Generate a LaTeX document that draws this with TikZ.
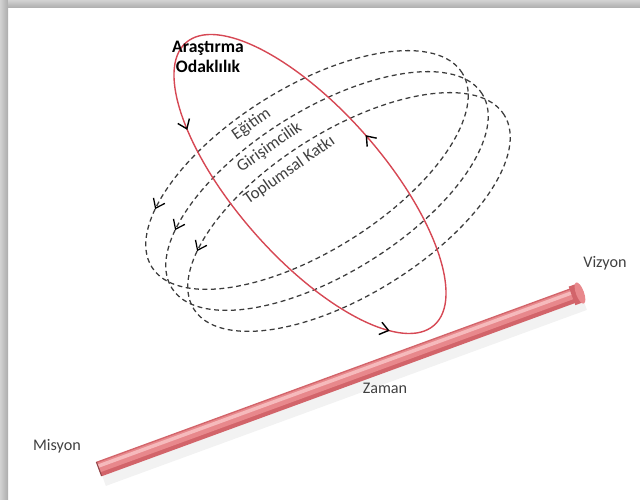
\documentclass[tikz,border=0pt]{standalone}
\usepackage{fontspec}
\setmainfont{Carlito}
\usetikzlibrary{arrows.meta,decorations.markings,calc}

\definecolor{orbitred}{RGB}{214,72,84}
\definecolor{orbitgray}{RGB}{60,60,60}
\definecolor{tubedark}{RGB}{210,100,106}
\definecolor{tubemid}{RGB}{232,136,140}
\definecolor{tubelight}{RGB}{246,186,188}
\definecolor{txtgray}{RGB}{64,64,64}

\begin{document}
\begin{tikzpicture}[x=0.025cm, y=0.025cm,
  >={Straight Barb[length=6pt,width=9pt]},
  orbit/.style={draw=orbitgray, line width=0.9pt, dash pattern=on 3.5pt off 2.5pt,
    postaction={decorate},
    decoration={markings, mark=at position 0.43 with {\arrow[black]{>}}}},
  focus/.style={draw=orbitred, line width=1pt,
    postaction={decorate},
    decoration={markings,
      mark=at position 0.25 with {\arrow[black]{>}},
      mark=at position 0.607 with {\arrow[black]{>}},
      mark=at position 0.946 with {\arrow[black]{>}}}},
  lbl/.style={font=\fontsize{11.5}{13}\selectfont, text=txtgray},
  orbitlbl/.style={font=\fontsize{12}{14}\selectfont, text=txtgray, rotate=35,
    anchor=base, inner sep=0pt}]
  \useasboundingbox (0,0) rectangle (640,500);

  % frame
  \shade[left color=gray!35, right color=gray!65] (0,0) rectangle (8,500);
  \shade[top color=gray!35, bottom color=gray!65] (8,492) rectangle (640,500);

  % time axis
  \coordinate (tubeS) at (99,31);
  \coordinate (tubeE) at (580,207);
  \draw[line width=12pt, black!5] ($(tubeS)+(4,-9)$) -- ($(tubeE)+(4,-9)$);
  \draw[line width=11pt, tubedark] (tubeS) -- (tubeE);
  \draw[line width=7pt, tubemid] ($(tubeS)+(-0.5,1.3)$) -- ($(tubeE)+(-0.5,1.3)$);
  \draw[line width=2.5pt, tubelight] ($(tubeS)+(-1.0,2.8)$) -- ($(tubeE)+(-1.0,2.8)$);
  \draw[line width=0.8pt, tubedark!70!black] ($(tubeS)+(2.6,-7.0)$) -- ($(tubeS)+(-2.6,7.0)$);
  \draw[line width=14pt, tubedark] ($(tubeE)+(-8,-2.9)$) -- (tubeE);
  \fill[tubemid, rotate around={20.1:(tubeE)}] (tubeE) ellipse (0.1cm and 0.28cm);

  % orbits
  \draw[orbit, rotate around={32:(307,330)}] (307,330) ellipse (4.575cm and 2.05cm);
  \draw[orbit, rotate around={32:(327,309)}] (327,309) ellipse (4.575cm and 2.05cm);
  \draw[orbit, rotate around={32:(349,288)}] (349,288) ellipse (4.575cm and 2.05cm);
  \draw[focus, rotate around={-48.7:(310,316)}] (310,316) ellipse (4.7cm and 1.85cm);

  \node[font=\bfseries\fontsize{12.5}{14}\selectfont, align=center] (ara) at (208,443) {Araştırma\\Odaklılık};
  \node[orbitlbl] (egi) at (254,372) {Eğitim};
  \node[orbitlbl] (gir) at (272,349) {Girişimcilik};
  \node[orbitlbl] (top) at (292,326) {Toplumsal Katkı};

  \node[lbl] (mis) at (57,54) {Misyon};
  \node[lbl] (viz) at (605,237) {Vizyon};
  \node[lbl] (zam) at (385,112) {Zaman};
\end{tikzpicture}
\end{document}
